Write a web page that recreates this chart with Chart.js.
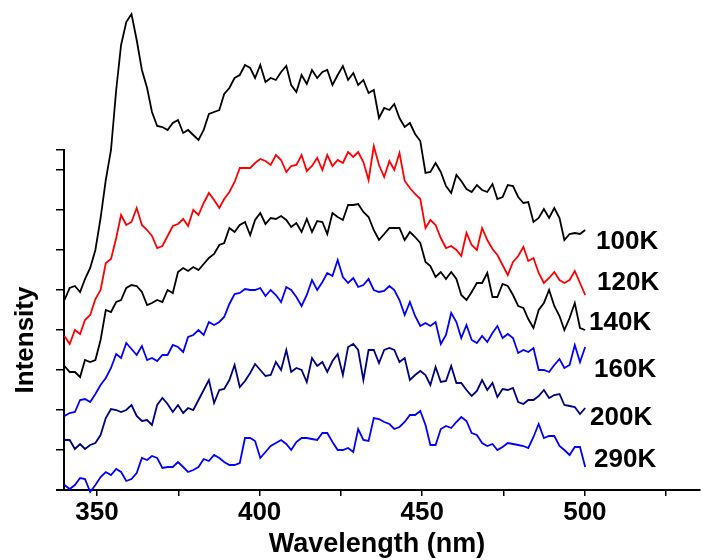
<!DOCTYPE html>
<html>
<head>
<meta charset="utf-8">
<script src="https://cdn.jsdelivr.net/npm/chart.js@4/dist/chart.umd.min.js"></script>
<style>
  html, body { margin: 0; padding: 0; background: #fff; }
</style>
</head>
<body>
<canvas id="myChart" width="702" height="560"></canvas>
<script>
// wavelength grid (nm) shared by all spectra
const wavelengths = [
  340.0, 341.6, 343.2, 344.8, 346.3, 347.9, 349.5, 351.1, 352.7, 354.3,
  355.9, 357.4, 359.0, 360.6, 362.2, 363.8, 365.4, 366.9, 368.5, 370.1,
  371.7, 373.3, 374.9, 376.5, 378.0, 379.6, 381.2, 382.8, 384.4, 386.0,
  387.6, 389.1, 390.7, 392.3, 393.9, 395.5, 397.1, 398.6, 400.2, 401.8,
  403.4, 405.0, 406.6, 408.2, 409.7, 411.3, 412.9, 414.5, 416.1, 417.7,
  419.3, 420.8, 422.4, 424.0, 425.6, 427.2, 428.8, 430.3, 431.9, 433.5,
  435.1, 436.7, 438.3, 439.9, 441.4, 443.0, 444.6, 446.2, 447.8, 449.4,
  451.0, 452.5, 454.1, 455.7, 457.3, 458.9, 460.5, 462.0, 463.6, 465.2,
  466.8, 468.4, 470.0, 471.6, 473.1, 474.7, 476.3, 477.9, 479.5, 481.1,
  482.6, 484.2, 485.8, 487.4, 489.0, 490.6, 492.2, 493.7, 495.3, 496.9,
  498.5, 500.1
];

// intensities (arbitrary units, curves offset vertically)
const k100 = [
  190, 202, 204, 198, 211, 222, 240, 272, 310, 340,
  400, 445, 468, 476, 450, 420, 402, 378, 364, 363,
  360, 367, 370, 357, 360, 355, 350, 360, 376, 378,
  380, 396, 402, 412, 415, 425, 422, 412, 425, 408,
  412, 410, 418, 424, 405, 398, 415, 406, 420, 412,
  418, 420, 405, 415, 424, 410, 417, 405, 410, 397,
  400, 372, 382, 380, 386, 372, 363, 367, 356, 349,
  317, 318, 327, 318, 304, 297, 315, 309, 301, 298,
  305, 300, 298, 306, 291, 293, 305, 304, 293, 287,
  288, 268, 272, 281, 272, 282, 272, 250, 256, 257,
  256, 260
];
const k120 = [
  154, 146, 160, 156, 170, 175, 191, 200, 227, 231,
  252, 275, 265, 268, 282, 265, 260, 254, 242, 244,
  254, 264, 266, 271, 264, 280, 275, 287, 297, 290,
  282, 291, 298, 308, 322, 322, 322, 327, 331, 329,
  325, 335, 330, 318, 324, 325, 335, 319, 324, 332,
  320, 335, 324, 330, 327, 338, 333, 338, 328, 310,
  344, 325, 313, 329, 320, 337, 309, 302, 296, 291,
  262, 270, 265, 252, 242, 244, 240, 234, 257, 245,
  240, 262, 250, 241, 235, 225, 215, 228, 234, 243,
  229, 232, 217, 207, 212, 218, 210, 207, 210, 219,
  207, 195
];
const k140 = [
  124, 118, 118, 113, 130, 128, 130, 150, 180, 178,
  188, 190, 202, 205, 204, 198, 185, 187, 190, 188,
  200, 197, 218, 222, 219, 223, 220, 226, 232, 236,
  245, 247, 262, 258, 265, 268, 255, 270, 277, 266,
  272, 271, 274, 270, 263, 267, 258, 271, 258, 269,
  268, 256, 277, 273, 270, 285, 285, 286, 278, 273,
  260, 250, 256, 262, 262, 262, 250, 258, 253, 247,
  228, 224, 213, 218, 211, 218, 211, 195, 190, 198,
  207, 207, 217, 193, 193, 206, 204, 195, 184, 182,
  171, 162, 180, 187, 200, 184, 174, 160, 172, 187,
  162, 160
];
const k160 = [
  74, 77, 78, 90, 91, 88, 96, 105, 112, 122,
  136, 132, 147, 141, 135, 144, 130, 132, 129, 135,
  135, 145, 143, 138, 153, 155, 160, 155, 168, 165,
  168, 173, 186, 196, 197, 201, 200, 200, 202, 194,
  200, 195, 188, 203, 200, 193, 184, 195, 210, 200,
  208, 217, 214, 230, 213, 207, 212, 203, 205, 211,
  200, 198, 199, 204, 200, 190, 175, 188, 174, 164,
  167, 164, 168, 146, 155, 177, 168, 152, 165, 150,
  147, 154, 148, 157, 164, 152, 156, 152, 137, 140,
  138, 142, 120, 120, 118, 125, 131, 122, 125, 145,
  128, 143
];
const k200 = [
  50, 50, 41, 46, 41, 45, 47, 55, 72, 81,
  80, 78, 80, 85, 74, 69, 70, 65, 85, 92,
  86, 78, 85, 77, 82, 80, 90, 100, 110, 87,
  100, 101, 110, 125, 103, 109, 117, 126, 120, 114,
  115, 128, 120, 140, 118, 122, 120, 108, 132, 124,
  128, 118, 129, 136, 115, 143, 146, 140, 110, 140,
  140, 127, 140, 142, 140, 128, 132, 110, 115, 119,
  115, 105, 123, 108, 109, 124, 107, 107, 100, 94,
  99, 110, 100, 107, 93, 101, 100, 102, 88, 86,
  90, 90, 94, 100, 92, 95, 96, 85, 84, 83,
  76, 82
];
const k290 = [
  5, 1, 5, 12, 11, -2, 5, 13, 18, 15,
  21, 18, 9, 11, 17, 32, 30, 34, 32, 22,
  23, 23, 28, 23, 18, 20, 23, 31, 29, 35,
  32, 28, 25, 25, 27, 52, 52, 49, 32, 38,
  44, 47, 50, 46, 40, 48, 52, 52, 51, 50,
  57, 57, 48, 40, 40, 42, 38, 61, 50, 49,
  72, 71, 68, 66, 61, 63, 68, 75, 75, 79,
  65, 45, 45, 61, 64, 62, 68, 73, 69, 57,
  55, 47, 44, 46, 40, 43, 47, 46, 45, 44,
  42, 53, 66, 52, 54, 54, 44, 40, 35, 43,
  43, 23
];

const seriesNames = ["100K", "120K", "140K", "160K", "200K", "290K"];
const seriesData = [k100, k120, k140, k160, k200, k290];
const seriesColors = ["#000000", "#ff0000", "#000000", "#0000ff", "#000080", "#0000ff"];

// where the temperature labels sit (left x, middle y)
const labelSpots = [[596, 242], [597, 283], [589, 323], [594, 370], [590, 418], [594, 460]];

const FONT = '"Liberation Sans", Arial, sans-serif';

const annotate = {
  id: "annotate",
  afterDraw(chart) {
    const { ctx, chartArea } = chart;
    ctx.save();
    // short stub of the x axis left of the y axis
    ctx.strokeStyle = "#000";
    ctx.lineWidth = 2;
    ctx.beginPath();
    ctx.moveTo(56, chartArea.bottom);
    ctx.lineTo(chartArea.left, chartArea.bottom);
    ctx.stroke();

    ctx.fillStyle = "#000";
    ctx.textBaseline = "middle";
    ctx.textAlign = "left";
    ctx.font = "bold 26px " + FONT;
    seriesNames.forEach((name, i) => {
      ctx.fillText(name, labelSpots[i][0], labelSpots[i][1]);
    });

    ctx.textAlign = "center";
    ctx.font = "bold 27px " + FONT;
    ctx.fillText("Wavelength (nm)", 377, 545);

    ctx.translate(26, 340);
    ctx.rotate(-Math.PI / 2);
    ctx.font = "bold 26px " + FONT;
    ctx.fillText("Intensity", 0, 0);
    ctx.restore();
  },
};

const chart = new Chart(document.getElementById("myChart").getContext("2d"), {
  type: "line",
  data: {
    datasets: seriesData.map((vals, i) => ({
      label: seriesNames[i],
      data: wavelengths.map((w, j) => ({ x: w, y: vals[j] })),
      borderColor: seriesColors[i],
      borderWidth: 1.8,
      pointRadius: 0,
      tension: 0,
      fill: false,
      clip: false,
    })),
  },
  options: {
    responsive: false,
    devicePixelRatio: 1,
    animation: false,
    layout: { padding: { left: 0, top: 150, right: 2, bottom: 0 } },
    plugins: {
      legend: { display: false },
      tooltip: { enabled: false },
    },
    scales: {
      x: {
        type: "linear",
        min: 339.85,
        max: 535.4,
        afterFit: (scale) => { scale.height = 70; },
        border: { color: "#000", width: 2 },
        grid: { drawOnChartArea: false, drawTicks: true, tickLength: 6, color: "#000", lineWidth: 1.5 },
        ticks: {
          stepSize: 25,
          includeBounds: false,
          autoSkip: false,
          maxRotation: 0,
          padding: 1,
          color: "#000",
          font: { family: FONT, size: 26, weight: "bold" },
          callback: (v) => (v % 50 === 0 ? v : ""),
        },
      },
      y: {
        min: 0,
        max: 340,
        afterFit: (scale) => { scale.width = 64; },
        border: { color: "#000", width: 2 },
        grid: { drawOnChartArea: false, drawTicks: true, tickLength: 8, color: "#000", lineWidth: 1.5 },
        ticks: { stepSize: 40, display: false },
      },
    },
  },
  plugins: [annotate],
});
</script>
</body>
</html>
